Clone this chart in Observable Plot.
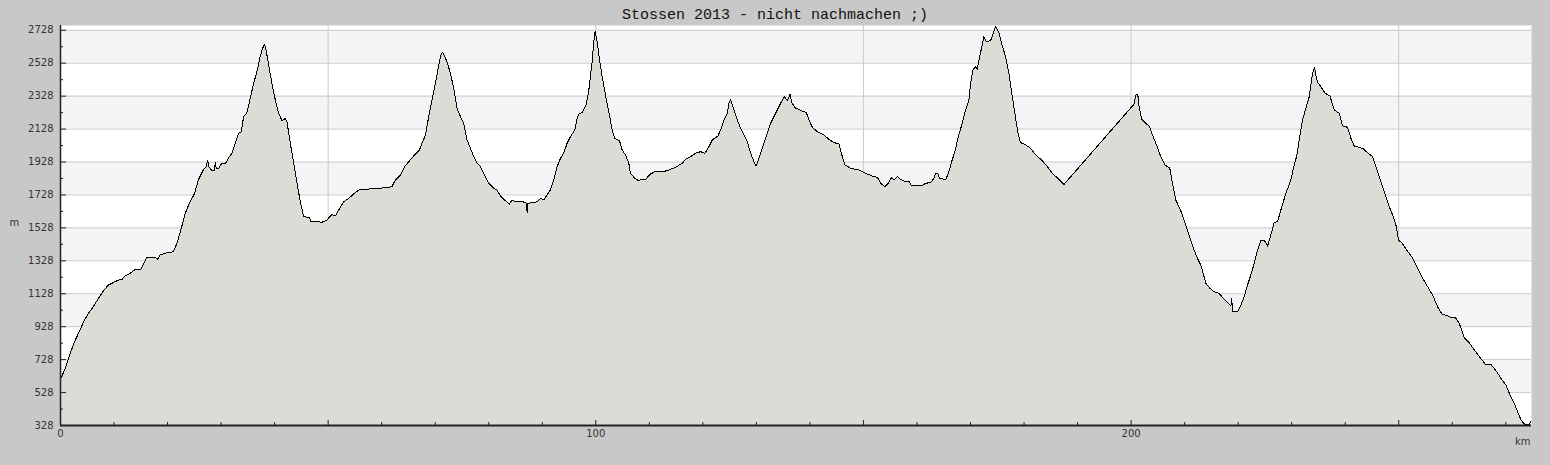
<!DOCTYPE html>
<html>
<head>
<meta charset="utf-8">
<script src="https://cdn.jsdelivr.net/npm/d3@7"></script>
<script src="https://cdn.jsdelivr.net/npm/@observablehq/plot@0.6"></script>
<style>
  html, body { margin: 0; padding: 0; background: #c8c8c8; width: 1550px; height: 465px; overflow: hidden; }
  #title { height: 25px; line-height: 31px; text-align: center; font-family: "Liberation Mono", "DejaVu Sans Mono", monospace; font-size: 15px; color: #111; white-space: pre; overflow: visible; }
  #chart svg { display: block; }
</style>
</head>
<body>
<div id="title">Stossen 2013 - nicht nachmachen ;)</div>
<div id="chart"></div>
<script>
const titleText = "Stossen 2013 - nicht nachmachen ;)";
const xLabel = "km";
const yLabel = "m";

const km = [0,0.88,1.81,2.75,3.68,4.3,5.23,6.18,7.1,8.04,8.67,8.98,9.91,10.85,11.47,12.1,13.03,13.96,14.9,15.5,16.14,17.08,17.7,18.2,18.6,19.88,21.1,21.75,22.56,23.31,23.93,25.05,25.8,26.74,27.2,27.5,27.7,28.2,28.8,28.9,29.1,29.6,30.04,30.79,31.41,32.03,32.65,33.27,33.77,34.21,34.83,35.45,36.08,36.7,37.3,37.76,38.14,38.5,38.88,39.5,40.13,40.75,41.37,42.0,42.3,42.93,43.56,44.18,44.8,45.43,46.5,46.8,47.6,48.85,49.8,50.4,50.7,51.34,51.97,52.9,53.84,54.77,55.7,56.95,59.13,60.69,61.9,62.56,63.5,64.3,65.05,65.98,67.05,67.54,68.17,68.79,69.41,70.04,70.66,71.03,71.4,72.2,72.84,73.46,74.08,74.71,75.33,75.95,76.58,77.2,77.82,78.44,79.38,80.0,80.94,81.56,82.18,83.12,83.87,84.24,85.3,86.55,87.04,87.17,87.3,88.1,89.04,89.66,90.28,90.9,91.53,92.15,92.78,93.4,94.0,94.64,95.27,96.08,96.5,96.8,97.45,98.2,98.7,99.32,99.63,99.88,100.25,100.69,101.19,101.81,102.43,103.06,103.55,104.43,104.92,105.55,106.17,106.48,107.29,107.9,109.29,110.22,111.15,112.4,113.65,114.9,116.14,116.76,117.7,118.64,119.57,120.38,121.13,121.75,122.81,123.31,123.93,124.56,124.87,125.18,125.8,126.43,127.05,127.67,128.3,128.92,129.54,129.98,130.79,131.72,132.66,133.6,134.53,135.27,135.77,136.08,136.27,136.6,137.33,137.95,138.58,139.33,139.82,140.45,141.38,142.0,142.63,143.56,144.5,145.43,146.05,146.55,147.61,149.17,150.4,151.66,152.6,153.22,153.97,154.65,155.27,155.7,156.33,156.96,157.74,158.49,158.99,160.05,160.98,161.6,162.54,163.17,163.48,163.97,164.2,165.03,165.4,165.97,166.47,167.09,167.71,168.46,169.08,169.71,170.02,170.46,170.95,171.26,171.7,172.2,172.51,172.95,173.76,174.19,174.69,175.31,175.94,176.56,177.18,177.81,178.43,178.93,179.36,180.3,181.23,182.17,183.41,184.35,185.28,186.53,187.46,200.57,200.88,201.25,201.5,202.0,202.75,203.37,204.0,204.62,205.55,206.36,207.23,207.73,208.35,209.1,209.9,210.53,211.16,211.78,212.4,213.03,213.46,213.96,214.71,215.52,216.45,217.08,218.01,218.64,218.8,218.95,219.88,220.5,221.13,221.75,222.37,223.0,223.62,224.24,224.87,225.49,226.11,226.73,227.36,227.98,228.92,229.85,230.47,230.91,231.41,232.03,232.65,233.28,233.59,233.9,234.27,234.6,234.9,235.45,236.26,237.14,237.95,238.88,239.5,240.44,241.06,241.69,243.24,244.18,245.11,245.73,246.36,246.98,247.6,248.23,248.85,249.47,249.97,250.72,251.65,252.59,253.52,254.46,255.39,256.33,257.26,258.07,259.13,259.75,260.56,261.31,262.25,263.18,264.12,265.05,266.3,267.23,268.16,269.1,270.03,270.66,271.59,272.22,272.84,273.46,274.27,274.7];

const elevation = [608,675,766,847,908,958,1009,1053,1100,1146,1171,1181,1197,1211,1215,1236,1252,1276,1272,1308,1347,1349,1349,1337,1363,1377,1383,1434,1525,1616,1667,1738,1823,1884,1900,1936,1900,1879,1879,1924,1890,1890,1916,1916,1956,1981,2042,2102,2112,2204,2228,2315,2406,2477,2568,2619,2643,2590,2517,2406,2305,2224,2179,2193,2173,2042,1920,1799,1687,1596,1592,1566,1568,1562,1576,1600,1608,1600,1637,1687,1707,1734,1758,1762,1768,1772,1778,1819,1849,1900,1930,1965,2001,2042,2092,2204,2305,2406,2517,2572,2596,2538,2467,2376,2254,2204,2163,2062,2011,1961,1920,1900,1839,1799,1768,1758,1722,1693,1673,1693,1689,1685,1677,1620,1677,1681,1687,1707,1697,1728,1758,1819,1900,1950,1981,2042,2082,2123,2193,2218,2228,2274,2365,2538,2659,2724,2659,2548,2447,2335,2234,2123,2072,2058,2001,1971,1920,1859,1829,1817,1823,1855,1871,1867,1880,1896,1920,1944,1961,1981,1991,1981,2021,2062,2086,2123,2183,2224,2285,2309,2244,2183,2133,2092,2052,1981,1930,1904,1981,2072,2163,2224,2285,2325,2301,2321,2341,2289,2254,2248,2238,2228,2183,2139,2112,2102,2092,2066,2046,2037,1961,1910,1890,1880,1859,1843,1835,1799,1778,1799,1835,1819,1839,1823,1809,1813,1784,1784,1784,1799,1803,1829,1859,1855,1829,1823,1823,1869,1930,1991,2082,2163,2244,2305,2406,2487,2507,2491,2568,2639,2690,2659,2665,2706,2750,2714,2633,2568,2467,2325,2193,2092,2046,2032,2011,1971,1936,1900,1859,1823,1792,2280,2335,2339,2264,2187,2163,2147,2092,2042,1961,1910,1890,1799,1697,1647,1576,1515,1454,1393,1343,1302,1252,1191,1161,1140,1130,1106,1074,1053,1100,1018,1018,1059,1110,1181,1242,1313,1393,1450,1454,1418,1485,1560,1566,1637,1738,1819,1910,1961,2062,2183,2254,2325,2396,2467,2501,2440,2410,2386,2345,2329,2244,2224,2147,2139,2072,2025,2011,1985,1961,1900,1839,1778,1718,1657,1606,1546,1455,1431,1385,1345,1282,1222,1171,1120,1049,1005,995,983,985,948,861,831,786,746,695,699,661,614,573,523,462,411,361,337,330,351];

const yTicks = [328,528,728,928,1128,1328,1528,1728,1928,2128,2328,2528,2728];
const yMinorTicks = [428,628,828,1028,1228,1428,1628,1828,2028,2228,2428,2628];
const xLabelTicks = [0,100,200];
const xMajorTicks = [0,50,100,150,200,250];
const xMinorTicks = [10,20,30,40,60,70,80,90,110,120,130,140,160,170,180,190,210,220,230,240,260,270];
const xDomain = [0, 274.8];
const yDomain = [328, 2757];

const data = km.map((k, i) => ({km: k, m: elevation[i]}));
const bands = [];
for (let i = 1; i + 1 < yTicks.length; i += 2) bands.push({y1: yTicks[i], y2: yTicks[i + 1]});

document.getElementById("title").textContent = titleText;

const chart = Plot.plot({
  width: 1550,
  height: 440,
  marginTop: 0,
  marginLeft: 60,
  marginRight: 19,
  marginBottom: 40,
  style: {background: "transparent", fontFamily: "DejaVu Sans", fontSize: "10px", color: "#222"},
  x: {domain: xDomain, label: null},
  y: {domain: yDomain, label: null},
  marks: [
    Plot.frame({fill: "white", stroke: null}),
    Plot.rect(bands, {y1: "y1", y2: "y2", fill: "#f4f3f6"}),
    Plot.ruleY(yTicks, {stroke: "#cbcbcb", strokeWidth: 1}),
    Plot.ruleX(xMajorTicks, {stroke: "#cbcbcb", strokeWidth: 1}),
    Plot.areaY(data, {x: "km", y1: yDomain[0], y2: "m", fill: "#dcdbd6"}),
    Plot.lineY(data, {x: "km", y: "m", stroke: "#000", strokeWidth: 1, shapeRendering: "crispEdges"}),
    Plot.ruleX([xDomain[0]], {stroke: "#222", strokeWidth: 1.5}),
    Plot.ruleY([yDomain[0]], {stroke: "#222", strokeWidth: 2}),
    Plot.axisY({ticks: yTicks, tickSize: 0, tickPadding: 7, tickFormat: d => String(d), label: null, fill: "#333"}),
    Plot.axisY({ticks: yTicks, tickSize: -6, tickFormat: () => "", label: null}),
    Plot.axisY({ticks: yMinorTicks, tickSize: -3, tickFormat: () => "", label: null}),
    Plot.axisX({ticks: xLabelTicks, tickSize: 0, tickPadding: 4, tickFormat: d => String(d), label: null, fill: "#333"}),
    Plot.axisX({ticks: xMajorTicks, tickSize: -5, tickFormat: () => "", label: null}),
    Plot.axisX({ticks: xMinorTicks, tickSize: -3, tickFormat: () => "", label: null}),
    Plot.text([xLabel], {frameAnchor: "bottom-right", text: d => d, dy: 19, dx: -1, textAnchor: "end", fill: "#333"}),
    Plot.text([yLabel], {frameAnchor: "left", text: d => d, dx: -51, dy: -3, textAnchor: "start", fill: "#333"})
  ]
});
document.getElementById("chart").appendChild(chart);
</script>
</body>
</html>
